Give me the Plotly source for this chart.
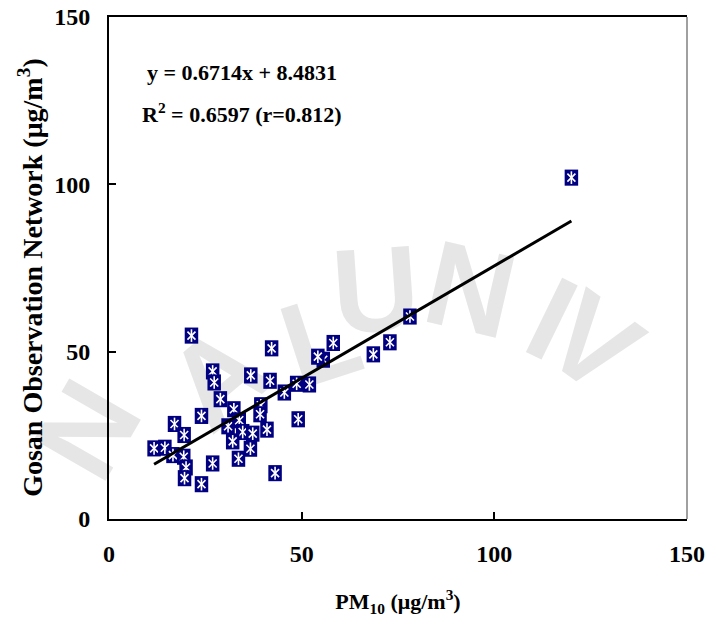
import plotly.graph_objects as go

# Data (PM10 vs Gosan observation network)
pm10 = [120.0, 78.1, 72.9, 68.6, 58.2, 55.6, 54.2, 52.0, 48.7, 45.5,
        42.2, 41.8, 36.8, 26.9, 27.3, 21.4, 28.9, 32.4, 39.4, 39.2,
        24.0, 17.0, 19.5, 30.9, 33.8, 34.7, 37.3, 41.0, 49.1, 32.1,
        36.7, 11.7, 14.5, 16.6, 19.4, 20.0, 19.6, 26.9, 33.6, 43.1, 24.0]
gosan = [102.0, 60.5, 52.8, 49.2, 52.6, 47.6, 48.5, 40.2, 40.4, 37.8,
         51.0, 41.3, 42.9, 44.1, 40.8, 54.8, 35.8, 32.8, 34.0, 31.3,
         30.8, 28.4, 25.1, 27.7, 29.5, 26.0, 25.5, 26.7, 29.8, 23.2,
         21.0, 21.1, 21.3, 19.1, 18.6, 15.4, 12.2, 16.6, 18.0, 13.7, 10.4]

slope = 0.6714
intercept = 8.4831
eq_lines = ["y = 0.6714x + 8.4831", "R<sup>2</sup> = 0.6597 (r=0.812)"]
tick_vals = [0, 50, 100, 150]
x_title = "PM<sub>10</sub> (μg/m<sup>3</sup>)"
y_title = "Gosan Observation Network (μg/m<sup>3</sup>)"

# faint background watermark letters (letter, paper x, paper y, angle)
wm_letters = ["N", "A", "L", "U", "N", "I", "V"]
wm_x = [-0.055, 0.175, 0.36, 0.46, 0.63, 0.775, 0.85]
wm_y = [0.19, 0.30, 0.38, 0.48, 0.48, 0.42, 0.37]
wm_angle = [-60, -40, -18, -4, 13, 26, 36]

FONT = "Liberation Serif"
NAVY = "#000080"

fig = go.Figure()

for ch, px, py, ang in zip(wm_letters, wm_x, wm_y, wm_angle):
    fig.add_shape(type="rect", xref="paper", yref="paper", layer="below",
                  x0=px - 0.01, x1=px + 0.01, y0=py - 0.01, y1=py + 0.01,
                  line=dict(width=0), fillcolor="rgba(0,0,0,0)",
                  label=dict(text=ch, textangle=ang, textposition="middle center",
                             font=dict(family="Liberation Sans", size=120,
                                       color="#e6e6e6", weight="bold")))

for xv, yv in zip(pm10, gosan):
    fig.add_trace(go.Scatter(
        x=[xv], y=[yv], mode="markers", showlegend=False, hoverinfo="skip",
        marker=dict(symbol="line-ns-open", size=11.5, color=NAVY,
                    line=dict(width=13.5, color=NAVY))))
    fig.add_trace(go.Scatter(
        x=[xv], y=[yv], mode="markers", showlegend=False, hoverinfo="skip",
        marker=dict(symbol="x-thin-open", size=8, color="white",
                    line=dict(width=1.6, color="white"))))
    fig.add_trace(go.Scatter(
        x=[xv], y=[yv], mode="markers", showlegend=False, hoverinfo="skip",
        marker=dict(symbol="line-ns-open", size=9, color="white",
                    line=dict(width=1.6, color="white"))))

xmin, xmax = min(pm10), max(pm10)
fig.add_trace(go.Scatter(
    x=[xmin, xmax], y=[slope * xmin + intercept, slope * xmax + intercept],
    mode="lines", showlegend=False, hoverinfo="skip",
    line=dict(color="black", width=3)))

axis_common = dict(
    range=[0, 150], tickvals=tick_vals, ticks="inside", ticklen=7,
    tickwidth=1.5, tickcolor="black", showline=True, linecolor="black",
    linewidth=2, showgrid=False, zeroline=False,
    tickfont=dict(family=FONT, size=24, color="black", weight="bold"),
)

fig.update_xaxes(**axis_common, mirror=True, ticklabelstandoff=12,
                 title=dict(text=x_title,
                            font=dict(family=FONT, size=22, color="black", weight="bold"),
                            standoff=28))
fig.update_yaxes(**axis_common, ticklabelstandoff=12)

fig.add_annotation(xref="paper", yref="paper", x=-0.137, y=0.482, text=y_title,
                   textangle=-90, showarrow=False, xanchor="center", yanchor="middle",
                   font=dict(family=FONT, size=28, color="black", weight="bold"))

# right frame edge (grey)
fig.add_shape(type="line", xref="paper", yref="paper", x0=1, x1=1, y0=0, y1=1,
              line=dict(color="#a0a0a0", width=2))

for i, txt in enumerate(eq_lines):
    fig.add_annotation(xref="paper", yref="paper", x=0.23, y=0.89 - i * 0.081,
                       text=txt, showarrow=False, xanchor="center", yanchor="middle",
                       font=dict(family=FONT, size=22, color="black", weight="bold"))

fig.update_layout(
    width=707, height=623,
    margin=dict(l=109, r=20, t=17, b=104, autoexpand=False),
    paper_bgcolor="white", plot_bgcolor="rgba(0,0,0,0)",
)

fig.write_html("out.html")
